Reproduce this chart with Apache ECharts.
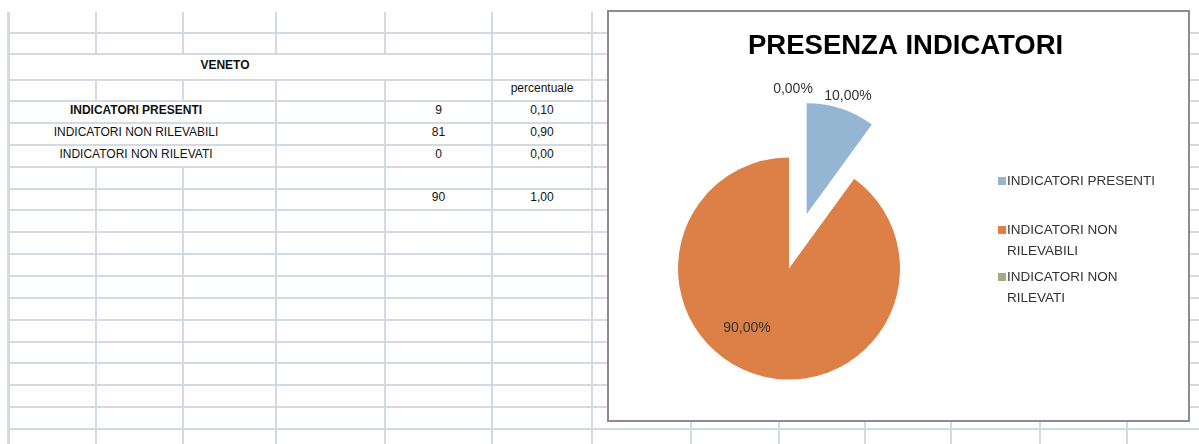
<!DOCTYPE html>
<html>
<head>
<meta charset="utf-8">
<script src="https://cdn.jsdelivr.net/npm/echarts@6/dist/echarts.min.js"></script>
<style>
  html, body { margin: 0; padding: 0; background: #fff; }
  #sheet { position: relative; width: 1199px; height: 444px; overflow: hidden;
           font-family: "Liberation Sans", Arial, sans-serif; }
  .gl { position: absolute; background: #d3dae6; }
  .cell { position: absolute; display: flex; align-items: center; justify-content: center;
          box-sizing: border-box; padding-bottom: 5px;
          font-size: 12px; color: #111; white-space: nowrap; }
  .cell.b { font-weight: bold; }
  #frame { position: absolute; left: 607px; top: 10px; width: 583px; height: 412px;
           box-sizing: border-box; border: 2px solid #8c8c8c; background: #fff; }
  #chart { position: absolute; left: 0; top: 0; width: 579px; height: 408px; }
</style>
</head>
<body>
<div id="sheet">
  <div id="frame"><div id="chart"></div></div>
</div>
<script>
// ---- data ----
const region = 'VENETO';
const chartTitle = 'PRESENZA INDICATORI';
const percentHeader = 'percentuale';
const categories = ['INDICATORI PRESENTI', 'INDICATORI NON RILEVABILI', 'INDICATORI NON RILEVATI'];
const counts = [9, 81, 0];

// ---- worksheet layout ----
const colX = [8, 96, 183, 276, 385, 492, 592, 691, 779, 865, 951, 1040, 1127];
const rowY = [33, 54, 80, 101, 123, 145, 167, 189, 210, 232, 254, 276, 298, 320, 342, 363, 385, 407, 429];
const sheetTop = 12, sheetRight = 1199, sheetBottom = 444;
// merged ranges: [x0, x1, y0, y1]
const merges = [[8, 492, 54, 80], [8, 276, 101, 167]];

const sheet = document.getElementById('sheet');
const frame = document.getElementById('frame');
function line(x, y, w, h) {
  const d = document.createElement('div');
  d.className = 'gl';
  d.style.left = x + 'px'; d.style.top = y + 'px';
  d.style.width = w + 'px'; d.style.height = h + 'px';
  sheet.insertBefore(d, frame);
}
rowY.forEach(y => line(colX[0], y - 1, sheetRight - colX[0], 2));
colX.forEach((x, ci) => {
  const cuts = merges.filter(m => x > m[0] && x < m[1]).map(m => [m[2], m[3]]).sort((a, b) => a[0] - b[0]);
  let y = sheetTop;
  cuts.forEach(([a, b]) => { if (a > y) line(x - 1, y, ci === 0 ? 3 : 2, a - y); y = b; });
  line(x - 1, y, ci === 0 ? 3 : 2, sheetBottom - y);
});

function cell(text, x0, x1, y0, y1, bold) {
  const d = document.createElement('div');
  d.className = 'cell' + (bold ? ' b' : '');
  d.style.left = x0 + 'px'; d.style.width = (x1 - x0) + 'px';
  d.style.top = y0 + 'px'; d.style.height = (y1 - y0) + 'px';
  d.textContent = text;
  sheet.insertBefore(d, frame);
}
const total = counts.reduce((a, b) => a + b, 0);
const comma = (v, n) => v.toFixed(n).replace('.', ',');

cell(region, 8, 442, rowY[1], rowY[2], true);
cell(percentHeader, 492, 592, rowY[2], rowY[3]);
categories.forEach((name, i) => {
  cell(name, 8, 264, rowY[3 + i], rowY[4 + i], i === 0);
  cell(String(counts[i]), 385, 492, rowY[3 + i], rowY[4 + i]);
  cell(comma(counts[i] / total, 2), 492, 592, rowY[3 + i], rowY[4 + i]);
});
cell(String(total), 385, 492, rowY[7], rowY[8]);
cell(comma(total / total, 2), 492, 592, rowY[7], rowY[8]);

// ---- pie chart ----
const palette = ['#94B6D2', '#DD8047', '#A5AB81'];
const labelNudge = [[-2, 0], [-24, 4], [9, 0]];
const legendTops = [158.5, 186.5, 233.5];
const textFont = 'Liberation Sans, Arial, sans-serif';

// wrapped legend names keep their first line level with the swatch
const legendText = n => n.indexOf('NON ') >= 0 ? '\n' + n.replace('NON ', 'NON\n') : n;

const chart = echarts.init(document.getElementById('chart'), null, { renderer: 'canvas' });
chart.setOption({
  animation: false,
  color: palette,
  title: {
    text: chartTitle, left: 139, top: 20, padding: 0,
    textStyle: { fontFamily: textFont, fontWeight: 'bold', fontSize: 27.5, color: '#000' }
  },
  legend: categories.map((name, i) => ({
    orient: 'vertical', left: 389, top: legendTops[i], padding: 0,
    itemWidth: 8, itemHeight: 8, icon: 'rect', selectedMode: false,
    data: [{ name }],
    formatter: legendText,
    textStyle: { fontFamily: textFont, fontSize: 13.5, color: '#333', lineHeight: 21, padding: [0, 0, 0, -4] }
  })),
  series: [{
    type: 'pie',
    center: [180, 256.5],
    radius: 111,
    startAngle: 90,
    clockwise: true,
    selectedMode: 'multiple',
    selectedOffset: 57,
    avoidLabelOverlap: false,
    itemStyle: { borderWidth: 0 },
    emphasis: { disabled: true },
    label: {
      show: true, position: 'outside',
      fontFamily: textFont, fontSize: 14, color: '#333',
      formatter: p => comma(p.value / total * 100, 2) + '%'
    },
    labelLine: { show: false, length: 13, length2: 0 },
    labelLayout: p => ({ dx: labelNudge[p.dataIndex][0], dy: labelNudge[p.dataIndex][1], align: 'center' }),
    data: categories.map((name, i) => {
      const item = { name, value: counts[i], selected: i === 0 };
      if (i === 1) item.label = { position: 'inside' };
      if (i === 2) item.labelLine = { length: 68 };
      return item;
    })
  }]
});
</script>
</body>
</html>
